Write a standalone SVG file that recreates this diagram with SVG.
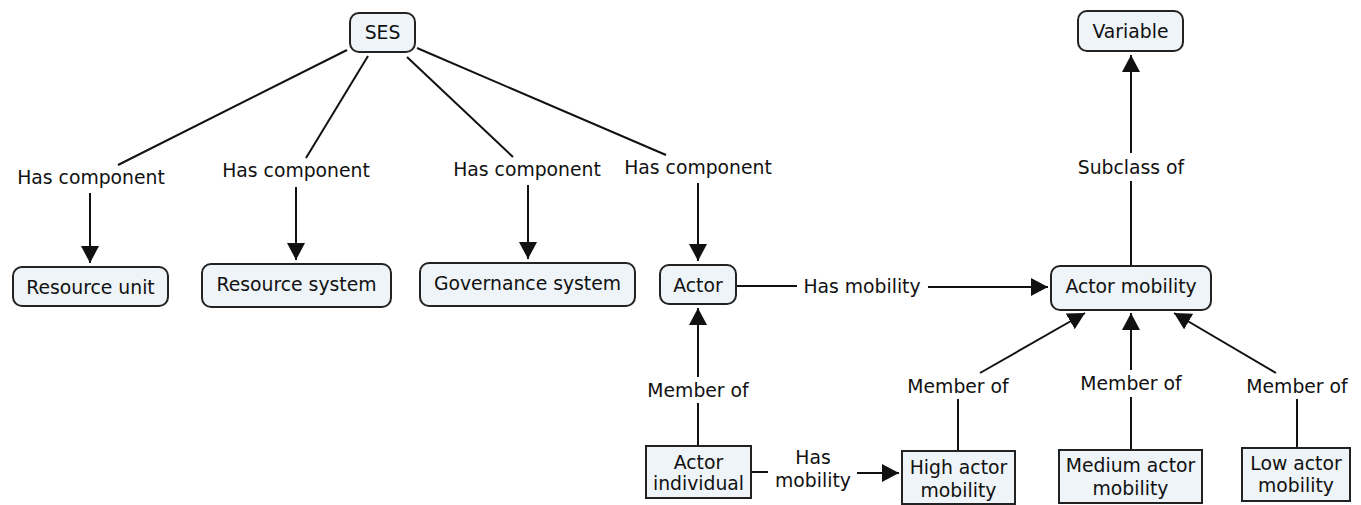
<svg xmlns="http://www.w3.org/2000/svg" width="1361" height="505" viewBox="0 0 1361 505">
<style>
text{font-family:"DejaVu Sans",Verdana,sans-serif;font-size:18.8px;fill:#111;text-anchor:middle;dominant-baseline:central}
.n{fill:#eef4f7;stroke:#222;stroke-width:2}
.c{stroke:#111;stroke-width:2;fill:none}
.a{marker-end:url(#ah)}
</style>
<defs>
<marker id="ah" markerUnits="userSpaceOnUse" markerWidth="18" markerHeight="20" refX="17" refY="9" orient="auto">
<path d="M0,0 L17,9 L0,18 z" fill="#111"/>
</marker>
</defs>
<rect width="1361" height="505" fill="#fff"/>
<g id="connectors">
<line class="c" x1="347" y1="50" x2="118" y2="165"/>
<line class="c a" x1="90" y1="193" x2="90" y2="263"/>
<line class="c" x1="368" y1="56" x2="306" y2="158"/>
<line class="c a" x1="296" y1="187" x2="296" y2="260"/>
<line class="c" x1="407" y1="57" x2="513" y2="157"/>
<line class="c a" x1="528" y1="185" x2="528" y2="259"/>
<line class="c" x1="417" y1="48" x2="666" y2="155"/>
<line class="c a" x1="698" y1="183" x2="698" y2="261"/>
<line class="c" x1="737" y1="286" x2="797" y2="286"/>
<line class="c a" x1="928" y1="287" x2="1048" y2="287"/>
<line class="c" x1="1131" y1="266" x2="1131" y2="181"/>
<line class="c a" x1="1131" y1="153" x2="1131" y2="55"/>
<line class="c" x1="698" y1="446" x2="698" y2="403"/>
<line class="c a" x1="698" y1="377" x2="698" y2="308"/>
<line class="c" x1="752" y1="472" x2="768" y2="472"/>
<line class="c a" x1="857" y1="473" x2="899" y2="473"/>
<line class="c" x1="958" y1="451" x2="958" y2="399"/>
<line class="c a" x1="980" y1="373" x2="1085" y2="313"/>
<line class="c" x1="1131" y1="450" x2="1131" y2="397"/>
<line class="c a" x1="1131" y1="370" x2="1131" y2="313"/>
<line class="c" x1="1297" y1="448" x2="1297" y2="399"/>
<line class="c a" x1="1276" y1="373" x2="1174" y2="313"/>
</g>
<g id="labels">
<text x="91" y="177">Has component</text>
<text x="296" y="170">Has component</text>
<text x="527" y="169">Has component</text>
<text x="698" y="167">Has component</text>
<text x="862" y="286">Has mobility</text>
<text x="1131" y="167">Subclass of</text>
<text x="698" y="390">Member of</text>
<text x="813" y="457">Has</text>
<text x="813" y="480">mobility</text>
<text x="958" y="386">Member of</text>
<text x="1131" y="383">Member of</text>
<text x="1297" y="386">Member of</text>
</g>
<g id="ses"><rect class="n" x="350" y="13" width="65" height="39" rx="9"/><text x="382.5" y="32">SES</text></g>
<g id="variable"><rect class="n" x="1078" y="11" width="105" height="40" rx="9"/><text x="1130.5" y="31">Variable</text></g>
<g id="resource-unit"><rect class="n" x="13" y="267" width="155" height="39" rx="9"/><text x="90.5" y="287">Resource unit</text></g>
<g id="resource-system"><rect class="n" x="202" y="264" width="189" height="43" rx="9"/><text x="296.5" y="284">Resource system</text></g>
<g id="governance-system"><rect class="n" x="420" y="263" width="215" height="43" rx="9"/><text x="527.5" y="283">Governance system</text></g>
<g id="actor"><rect class="n" x="660" y="265" width="76" height="39" rx="9"/><text x="698" y="285">Actor</text></g>
<g id="actor-mobility"><rect class="n" x="1051" y="266" width="160" height="44" rx="9"/><text x="1131" y="286">Actor mobility</text></g>
<g id="actor-individual"><rect class="n" x="646" y="446" width="105" height="52"/><text x="698.5" y="462">Actor</text><text x="698.5" y="483">individual</text></g>
<g id="high-actor-mobility"><rect class="n" x="902" y="451" width="113" height="53"/><text x="958.5" y="467">High actor</text><text x="958.5" y="490">mobility</text></g>
<g id="medium-actor-mobility"><rect class="n" x="1059" y="450" width="143" height="53"/><text x="1130.5" y="465">Medium actor</text><text x="1130.5" y="488">mobility</text></g>
<g id="low-actor-mobility"><rect class="n" x="1242" y="448" width="108" height="53"/><text x="1296" y="463">Low actor</text><text x="1296" y="485">mobility</text></g>
</svg>
